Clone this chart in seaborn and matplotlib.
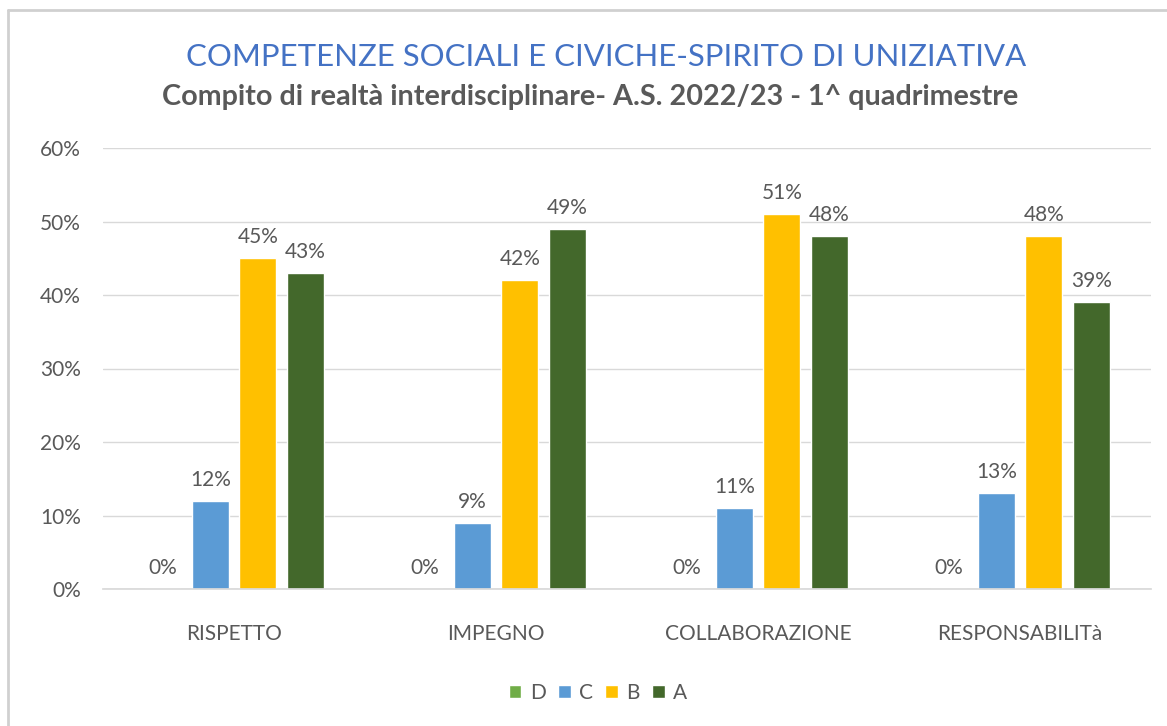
import pandas as pd
import seaborn as sns
import matplotlib.pyplot as plt
from matplotlib.lines import Line2D
from matplotlib.ticker import PercentFormatter

# dati del grafico
categorie = ['RISPETTO', 'IMPEGNO', 'COLLABORAZIONE', 'RESPONSABILITà']
livelli = ['D', 'C', 'B', 'A']
valori_D = [0.00, 0.00, 0.00, 0.00]
valori_C = [0.12, 0.09, 0.11, 0.13]
valori_B = [0.45, 0.42, 0.51, 0.48]
valori_A = [0.43, 0.49, 0.48, 0.39]
colori = ['#70AD47', '#5B9BD5', '#FFC000', '#43682B']

# tabella lunga per seaborn
righe = []
for liv, vals in zip(livelli, [valori_D, valori_C, valori_B, valori_A]):
    for cat, v in zip(categorie, vals):
        righe.append({'categoria': cat, 'livello': liv, 'valore': v})
df = pd.DataFrame(righe)

sns.set_theme(style='white')
plt.rcParams['font.family'] = ['Lato', 'DejaVu Sans']
grigio = '#595959'

W, H = 1167, 726
fig = plt.figure(figsize=(W / 100, H / 100), dpi=100)
ax = fig.add_axes([103 / W, 1 - 589 / H, (1151 - 103) / W, (589 - 148) / H])

sns.barplot(data=df, x='categoria', y='valore', hue='livello', order=categorie,
            hue_order=livelli, palette=colori, width=0.725, gap=0.22,
            saturation=1, ax=ax)

ax.set_ylim(0, 0.6)
ax.set_xlim(-0.5, 3.5)
ax.set_yticks([0, 0.1, 0.2, 0.3, 0.4, 0.5, 0.6])
ax.yaxis.set_major_formatter(PercentFormatter(1.0, decimals=0))
ax.grid(axis='y', color='#d9d9d9', linewidth=1)
ax.set_axisbelow(True)
for s in ['top', 'right', 'left']:
    ax.spines[s].set_visible(False)
ax.spines['bottom'].set_color('#d9d9d9')
ax.set_xlabel('')
ax.set_ylabel('')
ax.tick_params(axis='y', labelsize=15, labelcolor=grigio, pad=16, length=0)
ax.tick_params(axis='x', labelsize=15, labelcolor=grigio, pad=25, length=0)

for cont in ax.containers:
    ax.bar_label(cont, labels=[f'{v * 100:.0f}%' for v in cont.datavalues],
                 padding=8, fontsize=15, color=grigio)

# legenda in basso
handles, labels = ax.get_legend_handles_labels()
ax.get_legend().remove()
fig.legend(handles, labels, loc='center', bbox_to_anchor=(598 / W, 1 - 693 / H),
           ncol=4, frameon=False, fontsize=15, handlelength=0.6, handleheight=0.6,
           handletextpad=0.4, columnspacing=0.6, labelcolor=grigio)

# titoli
fig.text(606 / W, 1 - 57 / H, 'COMPETENZE SOCIALI E CIVICHE-SPIRITO DI UNIZIATIVA',
         ha='center', va='center', fontsize=22.4, color='#4472C4')
fig.text(590 / W, 1 - 97 / H, 'Compito di realtà interdisciplinare- A.S. 2022/23 - 1^ quadrimestre',
         ha='center', va='center', fontsize=20.7, fontweight='bold', color=grigio)

# bordo del riquadro
fig.add_artist(Line2D([8 / W, 8 / W], [0, 1 - 10 / H], transform=fig.transFigure,
                      color='#d0d0d0', linewidth=2))
fig.add_artist(Line2D([8 / W, 1], [1 - 10 / H, 1 - 10 / H], transform=fig.transFigure,
                      color='#d0d0d0', linewidth=2))

fig.savefig('out.png', dpi=100)
